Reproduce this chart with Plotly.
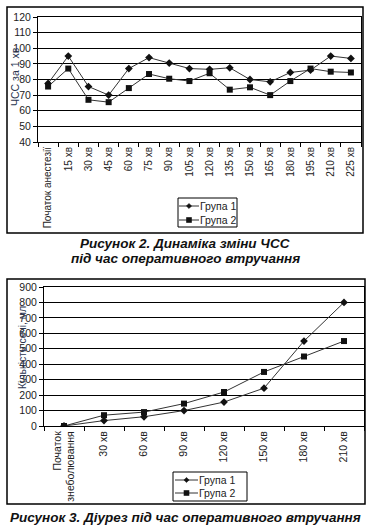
import plotly.graph_objects as go

W, H = 370, 528

# ---- Data: chart 1 (heart rate) ----
cats1 = ["Початок анестезії", "15 хв", "30 хв", "45 хв", "60 хв", "75 хв", "90 хв",
         "105 хв", "120 хв", "135 хв", "150 хв", "165 хв", "180 хв", "195 хв",
         "210 хв", "225 хв"]
hr_g1 = [77.5, 95, 75.5, 70, 87, 94, 90.5, 87, 86.5, 87.5, 80, 78.5, 84.5, 86, 95, 93.5]
hr_g2 = [75.5, 87, 67, 65.5, 74.5, 83.5, 80.5, 79, 84, 73.5, 75, 70, 79, 87, 85, 84.5]
yticks1 = [40, 50, 60, 70, 80, 90, 100, 110, 120]

# ---- Data: chart 2 (diuresis) ----
cats2 = ["Початок<br>знеболювання", "30 хв", "60 хв", "90 хв", "120 хв", "150 хв",
         "180 хв", "210 хв"]
ur_g1 = [0, 35, 60, 100, 155, 245, 550, 800]
ur_g2 = [0, 70, 90, 145, 220, 350, 450, 550]
yticks2 = [0, 100, 200, 300, 400, 500, 600, 700, 800, 900]

series_names = ["Група 1", "Група 2"]

LINE = "#333333"
TXT = "#222222"
FONT = "Liberation Sans"


def px(x):
    return x / W


def py(y):
    return 1 - y / H


fig = go.Figure()

style_g1 = dict(mode="lines+markers", line=dict(color=LINE, width=1),
                marker=dict(symbol="diamond", size=6, color="#111111"))
style_g2 = dict(mode="lines+markers", line=dict(color=LINE, width=1),
                marker=dict(symbol="square", size=6, color="#111111"))

fig.add_trace(go.Scatter(x=cats1, y=hr_g1, name=series_names[0], xaxis="x", yaxis="y", **style_g1))
fig.add_trace(go.Scatter(x=cats1, y=hr_g2, name=series_names[1], xaxis="x", yaxis="y", **style_g2))
fig.add_trace(go.Scatter(x=cats2, y=ur_g1, name=series_names[0], xaxis="x2", yaxis="y2", **style_g1))
fig.add_trace(go.Scatter(x=cats2, y=ur_g2, name=series_names[1], xaxis="x2", yaxis="y2", **style_g2))

xaxis_common = dict(type="category", showline=True, linecolor="black", linewidth=1,
                    mirror=True, showgrid=False, ticks="outside", ticklen=4,
                    tickcolor="black", tickson="boundaries", tickangle=-90,
                    zeroline=False, automargin=False)
yaxis_common = dict(showline=True, linecolor="black", linewidth=1, mirror=True,
                    showgrid=True, gridcolor="black", gridwidth=1, ticks="outside",
                    ticklen=4, tickcolor="black", zeroline=False, automargin=False,
                    tickfont=dict(family=FONT, size=10.5, color=TXT))

fig.update_layout(
    width=W, height=H,
    margin=dict(l=0, r=0, t=0, b=0),
    paper_bgcolor="white", plot_bgcolor="white",
    showlegend=False,
    xaxis=dict(domain=[px(38), px(361)], anchor="y", range=[-0.5, len(cats1) - 0.5],
               tickfont=dict(family=FONT, size=10, color=TXT), **xaxis_common),
    yaxis=dict(domain=[py(142), py(17)], anchor="x", range=[40, 120],
               tickvals=yticks1, **yaxis_common),
    xaxis2=dict(domain=[px(44), px(364)], anchor="y2", range=[-0.5, len(cats2) - 0.5],
                tickfont=dict(family=FONT, size=10.5, color=TXT), **xaxis_common),
    yaxis2=dict(domain=[py(426), py(287)], anchor="x2", range=[0, 900],
                tickvals=yticks2, **yaxis_common),
)

# outer frames
fig.add_shape(type="rect", xref="paper", yref="paper", x0=px(7), x1=px(363),
              y0=py(233), y1=py(7), line=dict(color="black", width=1.5))
fig.add_shape(type="rect", xref="paper", yref="paper", x0=px(7), x1=px(365),
              y0=py(504), y1=py(279), line=dict(color="black", width=1.5))


# compact legends (box, line samples with markers, labels)
def add_legend(x0, x1, y0, y1, rows, line_x0, line_x1, text_x):
    fig.add_shape(type="rect", xref="paper", yref="paper", x0=px(x0), x1=px(x1),
                  y0=py(y1), y1=py(y0), line=dict(color="black", width=1),
                  fillcolor="white", layer="above")
    mx = (line_x0 + line_x1) / 2
    for i, (ry, name) in enumerate(zip(rows, series_names)):
        fig.add_shape(type="line", xref="paper", yref="paper", x0=px(line_x0), x1=px(line_x1),
                      y0=py(ry), y1=py(ry), line=dict(color=LINE, width=1), layer="above")
        if i == 0:
            d = 2.6
            path = (f"M {px(mx - d)},{py(ry)} L {px(mx)},{py(ry - d)} "
                    f"L {px(mx + d)},{py(ry)} L {px(mx)},{py(ry + d)} Z")
            fig.add_shape(type="path", xref="paper", yref="paper", path=path,
                          fillcolor="#111111", line=dict(color="#111111", width=0.5),
                          layer="above")
        else:
            d = 2.8
            fig.add_shape(type="rect", xref="paper", yref="paper", x0=px(mx - d), x1=px(mx + d),
                          y0=py(ry + d), y1=py(ry - d), fillcolor="#111111",
                          line=dict(color="#111111", width=0), layer="above")
        fig.add_annotation(text=name, xref="paper", yref="paper", x=px(text_x), y=py(ry),
                           xanchor="left", yanchor="middle", showarrow=False,
                           font=dict(family=FONT, size=10.5, color=TXT))


add_legend(178, 237, 198, 227, [206, 220], 179, 199, 198)
add_legend(173, 247, 472, 501, [480, 493], 175, 198, 197)

# y-axis titles
fig.add_annotation(text="ЧСС за 1 хв", xref="paper", yref="paper", x=px(15), y=py(77),
                   xanchor="center", yanchor="middle",
                   textangle=-90, showarrow=False,
                   font=dict(family=FONT, size=10.5, color="#2a3550"))
fig.add_annotation(text="Кількість сечі, мл", xref="paper", yref="paper", x=px(22), y=py(348),
                   xanchor="center", yanchor="middle",
                   textangle=-90, showarrow=False,
                   font=dict(family=FONT, size=10.5, color="#2a3550"))

# captions
cap_font = dict(family=FONT, size=13.5, color="#111111")
fig.add_annotation(text="<b><i>Рисунок 2. Динаміка зміни ЧСС</i></b>", xref="paper", yref="paper",
                   x=0.5, y=py(243), xanchor="center", yanchor="middle",
                   showarrow=False, font=cap_font)
fig.add_annotation(text="<b><i>під час оперативного втручання</i></b>", xref="paper", yref="paper",
                   x=0.5, y=py(258), xanchor="center", yanchor="middle",
                   showarrow=False, font=cap_font)
fig.add_annotation(text="<b><i>Рисунок 3. Діурез під час оперативного втручання</i></b>",
                   xref="paper", yref="paper", x=0.5, y=py(517), xanchor="center",
                   yanchor="middle", showarrow=False, font=cap_font)

# the page's default body margin would shift the 370x528 figure; remove it
fig.write_html("out.html", config={"displayModeBar": False},
               post_script="document.body.style.margin='0px';")
